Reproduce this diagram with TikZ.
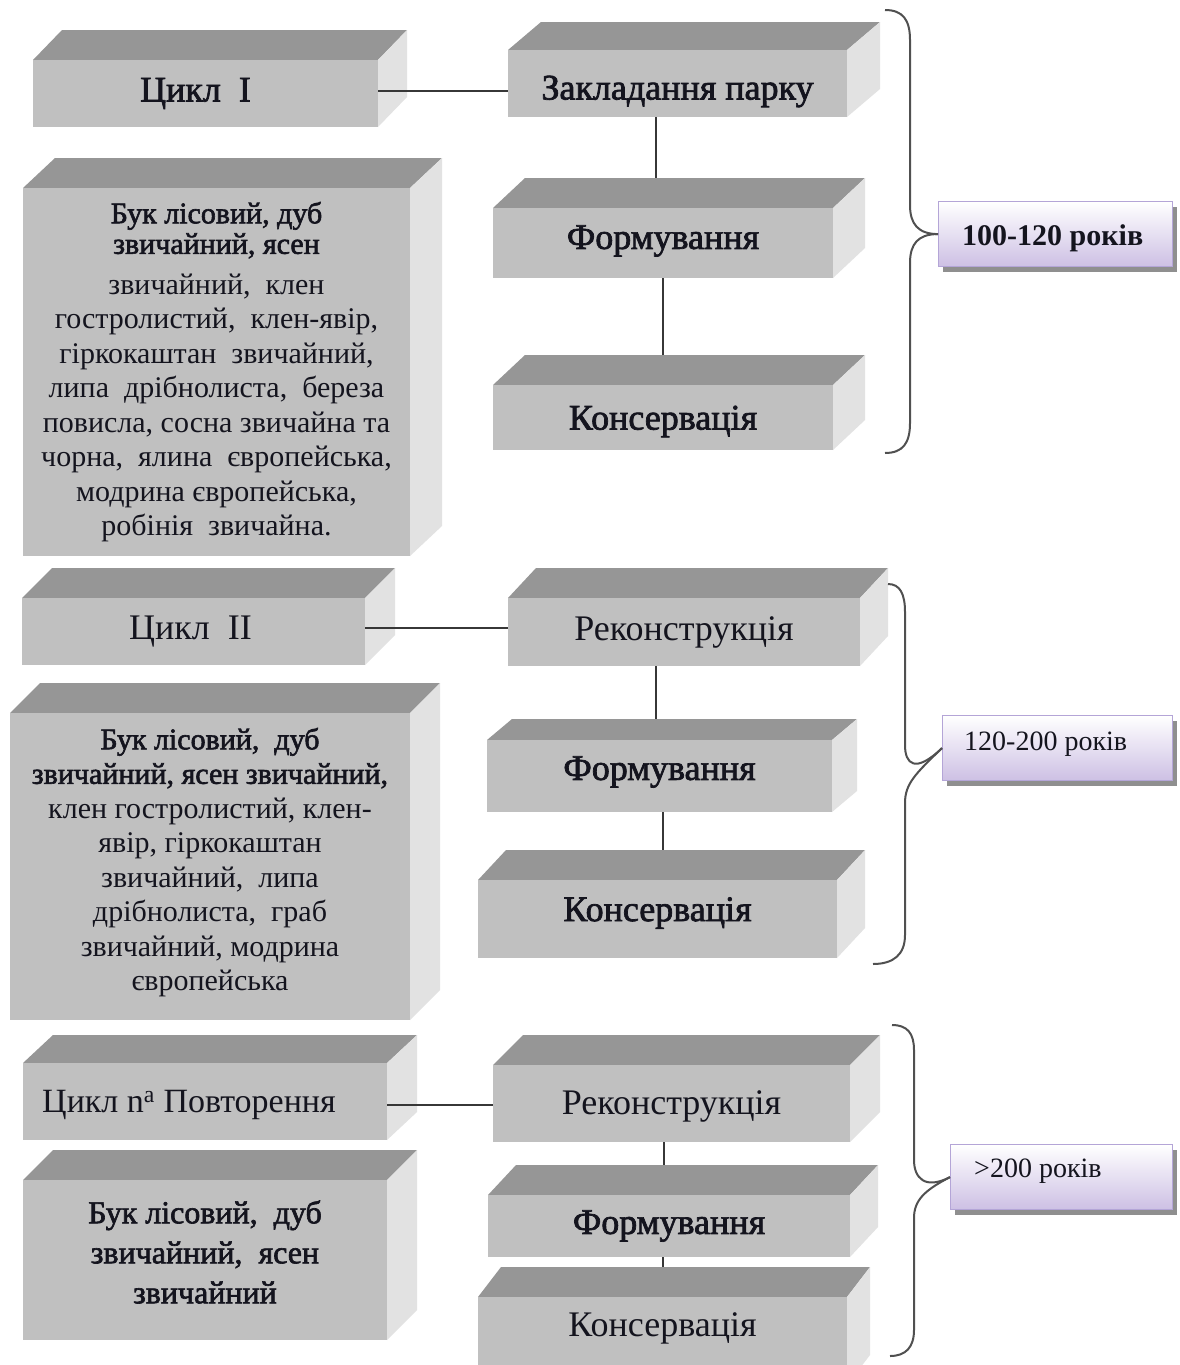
\documentclass[tikz,border=0pt]{standalone}
\usepackage{fontspec}
\setmainfont{Liberation Serif}
\newfontfamily\fbold[FakeBold=2]{Liberation Serif}
\usetikzlibrary{fit,shadows}
\definecolor{topc}{RGB}{150,150,150}
\definecolor{frontc}{RGB}{192,192,192}
\definecolor{sidec}{RGB}{226,226,226}
\definecolor{lav}{RGB}{205,192,228}
\definecolor{lavb}{RGB}{180,165,215}
\definecolor{connc}{RGB}{55,55,55}
\definecolor{bracec}{RGB}{80,80,80}
\definecolor{txt}{RGB}{20,20,30}
\tikzset{
  frontface/.style={fill=frontc, inner sep=0pt, draw=none},
  lbl/.style={font=\fontsize{36}{42}\selectfont, text=txt, inner sep=0pt},
  lblb/.style={font=\fontsize{36}{42}\selectfont\fbold, text=txt, inner sep=0pt},
  spec/.style={font=\fontsize{30}{34.5}\selectfont, text=txt, align=center, inner sep=0pt},
  conn/.style={draw=connc, line width=2pt},
  brc/.style={draw=bracec, line width=2pt},
  yrs/.style={draw=lavb, line width=1.2pt, top color=white, bottom color=lav,
     minimum width=234pt, minimum height=65pt, anchor=north west, inner sep=0pt,
     drop shadow={shadow xshift=4pt, shadow yshift=-5pt, fill=black!55, opacity=0.8}},
  yrstxt/.style={text=txt, inner sep=0pt, anchor=west}
}
\newcommand\tdbox[7]{%
  \fill[topc] (#2,#3) -- (#2+#6,#3-#7) -- (#4+#6,#3-#7) -- (#4,#3) -- cycle;
  \fill[sidec] (#4,#3) -- (#4+#6,#3-#7) -- (#4+#6,#5-#7) -- (#4,#5) -- cycle;
  \node[frontface, fit={(#2,#3) (#4,#5)}] (#1) {};
  \coordinate (#1-back) at (#2,#3-#7);
}
\begin{document}
\begin{tikzpicture}[x=1pt,y=-1pt]
\useasboundingbox (0,0) rectangle (1180,1365);
\clip (0,0) rectangle (1180,1365);
\fill[white] (0,0) rectangle (1180,1365);

% boxes
\tdbox{c1}{33}{60}{378}{127}{29}{30}
\tdbox{zp}{508}{50}{847}{117}{33}{28}
\tdbox{sp1}{23}{188}{410}{556}{32}{30}
\tdbox{fm1}{493}{208}{833}{278}{32}{30}
\tdbox{ks1}{493}{385}{833}{450}{32}{30}
\tdbox{c2}{22}{598}{365}{665}{30}{30}
\tdbox{rk1}{508}{598}{860}{666}{28}{30}
\tdbox{sp2}{10}{713}{410}{1020}{30}{30}
\tdbox{fm2}{487}{740}{832}{812}{25}{21}
\tdbox{ks2}{478}{880}{837}{958}{28}{30}
\tdbox{cn}{23}{1063}{387}{1140}{30}{28}
\tdbox{sp3}{23}{1180}{387}{1340}{30}{30}
\tdbox{rk3}{493}{1065}{850}{1142}{30}{30}
\tdbox{fm3}{488}{1195}{850}{1257}{28}{30}
\tdbox{ks3}{478}{1297}{847}{1385}{23}{30}

% texts
\node[lblb] (c1-t) at ([xshift=-10pt]c1) {Цикл\ \ I};
\node[lblb] (zp-t) at ([yshift=-8pt]zp) {Закладання парку};
\node[lblb] (fm1-t) at ([yshift=2pt]fm1) {Формування};
\node[lblb] (ks1-t) at ([yshift=-4pt]ks1) {Консервація};
\node[lbl] (c2-t) at ([xshift=-3pt]c2) {Цикл\ \ II};
\node[lbl] (rk1-t) at (rk1) {Реконструкція};
\node[lblb] (fm2-t) at ([yshift=4pt]fm2) {Формування};
\node[lblb] (ks2-t) at ([yshift=6pt]ks2) {Консервація};
\node[lbl, font=\fontsize{34}{40}\selectfont] (cn-t) at ([xshift=-16pt,yshift=-3pt]cn) {Цикл n\textsuperscript{a} Повторення};
\node[lbl] (rk3-t) at ([yshift=-3pt]rk3) {Реконструкція};
\node[lblb] (fm3-t) at (fm3) {Формування};
\node[lbl, anchor=north] (ks3-t) at ([yshift=-16pt]ks3.north) {Консервація};

\node[spec] (sp1-t) at (sp1) {{\fbold Бук лісовий, дуб}\\[-4pt]
  {\fbold звичайний, ясен}\\[6pt]
  звичайний,\ \ клен\\
  гостролистий,\ \ клен-явір,\\
  гіркокаштан\ \ звичайний,\\
  липа\ \ дрібнолиста,\ \ береза\\
  повисла, сосна звичайна та\\
  чорна,\ \ ялина\ \ європейська,\\
  модрина європейська,\\
  робінія\ \ звичайна.};
\node[spec] (sp2-t) at ([yshift=4pt]sp2) {{\fbold Бук лісовий,\ \ дуб}\\
  {\fbold звичайний, ясен звичайний,}\\
  клен гостролистий, клен-\\
  явір, гіркокаштан\\
  звичайний,\ \ липа\\
  дрібнолиста,\ \ граб\\
  звичайний, модрина\\
  європейська};
\node[spec, font=\fontsize{32}{40}\selectfont\fbold] (sp3-t) at ([yshift=8pt]sp3) {Бук лісовий,\ \ дуб\\
  звичайний,\ \ ясен\\
  звичайний};

% connectors
\draw[conn] ([yshift=3pt]c1.east) -- ([yshift=3pt]c1.east -| zp.west);
\draw[conn] ([yshift=4pt]c2.east) -- ([yshift=4pt]c2.east -| rk1.west);
\draw[conn] ([yshift=-3pt]cn.east) -- ([yshift=-3pt]cn.east -| rk3.west);
\draw[conn] ([xshift=-22pt]zp.south) -- ([xshift=-22pt]zp.south |- fm1-back);
\draw[conn] (fm1.south) -- (fm1.south |- ks1-back);
\draw[conn] ([xshift=-28pt]rk1.south) -- ([xshift=-28pt]rk1.south |- fm2-back);
\draw[conn] ([xshift=3pt]fm2.south) -- ([xshift=3pt]fm2.south |- ks2-back);
\draw[conn] ([xshift=-8pt]rk3.south) -- ([xshift=-8pt]rk3.south |- fm3-back);
\draw[conn] ([xshift=-6pt]fm3.south) -- ([xshift=-6pt]fm3.south |- ks3-back);

% year boxes
\node[yrs] (y1) at (938,201) {};
\node[yrs, minimum width=230pt] (y2) at (942,715) {};
\node[yrs, minimum width=222pt] (y3) at (950,1144) {};
\node[yrstxt, font=\fontsize{30}{36}\selectfont\bfseries] (y1-t) at ([xshift=24pt,yshift=-4pt]y1.west) {100-120 років};
\node[yrstxt, font=\fontsize{28}{34}\selectfont] (y2-t) at ([xshift=22pt,yshift=4pt]y2.west) {120-200 років};
\node[yrstxt, font=\fontsize{28}{34}\selectfont] (y3-t) at ([xshift=24pt,yshift=6pt]y3.west) {>200 років};

% braces
\draw[brc] (885,10) .. controls (903,10) and (910,20) .. (910,40) -- (910,205)
  .. controls (910,224) and (918,234) .. (y1.west) ;
\draw[brc] (y1.west) .. controls (918,234) and (910,244) .. (910,263) -- (910,423)
  .. controls (910,443) and (903,453) .. (885,453);
\draw[brc] (888,584) .. controls (900,584) and (905,594) .. (905,612) -- (905,745)
  .. controls (905,764) and (915,774) .. (y2.west);
\draw[brc] (y2.west) .. controls (915,774) and (905,784) .. (905,803) -- (905,935)
  .. controls (905,955) and (893,964) .. (873,964);
\draw[brc] (892,1025) .. controls (907,1025) and (914,1033) .. (914,1050) -- (914,1160)
  .. controls (914,1178) and (925,1190) .. (y3.west);
\draw[brc] (y3.west) .. controls (925,1190) and (914,1200) .. (914,1218) -- (914,1330)
  .. controls (914,1347) and (906,1356) .. (890,1356);
\end{tikzpicture}
\end{document}
